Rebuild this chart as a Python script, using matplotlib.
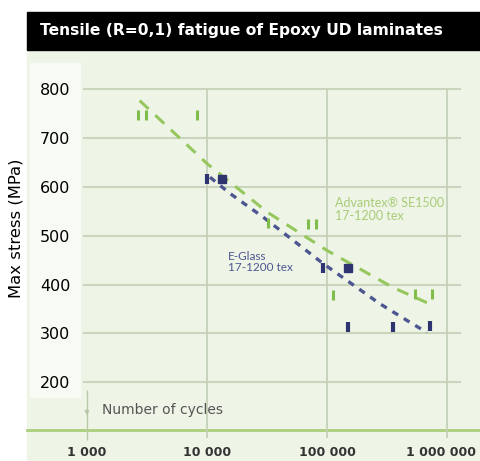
import matplotlib.pyplot as plt
from matplotlib.patches import Rectangle
import matplotlib.transforms as mtransforms

# data
advantex_n = [2660, 3100, 8260, 32000, 69000, 81000, 112000, 540000, 750000]
advantex_s = [747, 747, 747, 527, 525, 525, 378, 380, 380]
advantex_fit_n = [2750, 10000, 32000, 100000, 355000, 680000]
advantex_fit_s = [777, 648, 548, 470, 394, 363]

eglass_n = [10000, 93000, 150000, 355000, 720000]
eglass_s = [616, 435, 314, 314, 316]
eglass_sq_n = [13300, 150000]
eglass_sq_s = [616, 435]
eglass_fit_n = [10600, 15500, 29500, 93000, 275000, 490000, 680000]
eglass_fit_s = [620, 587, 538, 443, 361, 323, 302]

y_ticks = [200, 300, 400, 500, 600, 700, 800]
x_ticks = [1000, 10000, 100000, 1000000]
x_labels = ["1 000", "10 000", "100 000", "1 000 000"]

W, H = 480, 461
fig = plt.figure(figsize=(W / 100, H / 100), dpi=100)
fig.patch.set_facecolor("white")

# backgrounds
fig.patches.append(Rectangle((27 / W, 0), 453 / W, 411 / H, transform=fig.transFigure,
                             color="#eef5e6", zorder=-3))
fig.patches.append(Rectangle((30 / W, (H - 397) / H), 50 / W, 334 / H, transform=fig.transFigure,
                             color="#f8faf4", zorder=-2))
fig.patches.append(Rectangle((27 / W, (H - 50) / H), 453 / W, 38 / H, transform=fig.transFigure,
                             color="black", zorder=-2))
fig.text(40 / W, (H - 31) / H, "Tensile (R=0,1) fatigue of Epoxy UD laminates", color="white",
         fontsize=11.2, fontweight="bold", family="DejaVu Sans", va="center", ha="left")
fig.lines.append(plt.Line2D([27 / W, 1], [(H - 430) / H] * 2, transform=fig.transFigure,
                            color="#a9cf7d", lw=2, zorder=-1))

ax = fig.add_axes([83 / W, (H - 431) / H, 378 / W, 381 / H])
ax.set_zorder(5)
ax.set_facecolor("none")
ax.set_xscale("log")
ax.set_xlim(10 ** 2.967, 10 ** 6.117)
ax.set_ylim(100, 880.7)
for s in ax.spines.values():
    s.set_visible(False)

for y in y_ticks:
    ax.axhline(y, color="#c9d5bd", lw=1.5, zorder=1)
ax.vlines(x_ticks[1:], 86, 800, color="#c2ceb6", lw=1.2, zorder=1, clip_on=False)
ax.vlines([1000], 82, 184, color="#b8c8a8", lw=1.0, zorder=1, clip_on=False)
ax.annotate("", xy=(1000, 126), xytext=(1000, 150),
            arrowprops=dict(arrowstyle="-|>", color="#b8c8a8", lw=1.0, mutation_scale=6))
ax.text(1334, 144, "Number of cycles", color="#555555", fontsize=10, family="DejaVu Sans",
        va="center", ha="left")

ax.set_yticks(y_ticks)
ax.set_yticklabels([str(v) for v in y_ticks], fontsize=11.5, family="DejaVu Sans")
ax.set_xticks(x_ticks)
ax.set_xticklabels(x_labels, fontsize=9, fontweight="bold", family="DejaVu Sans", color="#333333")
ax.minorticks_off()
ax.tick_params(axis="y", length=0, pad=9)
ax.tick_params(axis="x", length=0, pad=11)
last = ax.get_xticklabels()[-1]
last.set_transform(last.get_transform() + mtransforms.ScaledTranslation(-6 / 100, 0, fig.dpi_scale_trans))
ax.set_ylabel("Max stress (MPa)", fontsize=11.8, family="DejaVu Sans")
ax.yaxis.set_label_coords(-59 / 378, (431 - 228) / 381)

# fitted curves
ax.plot(advantex_fit_n, advantex_fit_s, color="#96c65e", lw=2.2, dashes=(4, 3), zorder=3)
ax.plot(eglass_fit_n, eglass_fit_s, color="#4d5691", lw=2.4, dashes=(2, 2), zorder=3)

# data points
ax.plot(advantex_n, advantex_s, ls="none", marker="|", ms=7, mew=2.2, color="#80bd4a", zorder=4)
ax.plot(eglass_n, eglass_s, ls="none", marker="|", ms=7, mew=3, color="#2e3470", zorder=4)
ax.plot(eglass_sq_n, eglass_sq_s, ls="none", marker="s", ms=6, color="#2e3470", zorder=4)

ax.text(10 ** 5.07, 553, "Advantex\u00ae SE1500\n17-1200 tex", color="#a8cc78", fontsize=9,
        family="Lato", va="center", ha="left", linespacing=1.1)
ax.text(10 ** 4.175, 446, "E-Glass\n17-1200 tex", color="#4d5691", fontsize=8.5,
        family="Lato", va="center", ha="left", linespacing=1.0)

fig.savefig("out.png", dpi=100)
